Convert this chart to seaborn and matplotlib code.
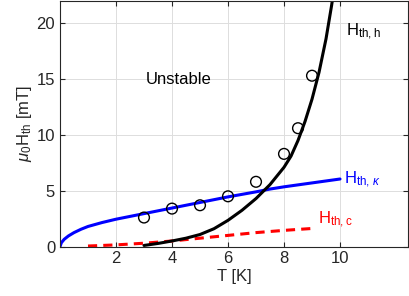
"""
Threshold fields H_th vs temperature: measured points and the three model curves.
"""

import matplotlib
matplotlib.use("Agg")
import matplotlib.pyplot as plt
import seaborn as sns

# measured thresholds (open circles)
T_MEAS = [3, 4, 5, 6, 7, 8, 8.5, 9]
H_MEAS = [2.6, 3.4, 3.7, 4.5, 5.8, 8.3, 10.6, 15.3]

# H_th,h (black)
T_H = [3.0, 3.5, 4.0, 4.5, 5.0, 5.5, 6.0, 6.5, 7.0, 7.5, 8.0, 8.25, 8.5,
       8.75, 9.0, 9.25, 9.5, 9.7, 9.8]
H_H = [0.1, 0.28, 0.5, 0.75, 1.08, 1.6, 2.35, 3.25, 4.3, 5.55, 7.1, 8.1, 9.5,
       11.2, 13.2, 15.6, 18.6, 21.6, 23.2]

# H_th,kappa (blue)
T_K = [0.0, 0.05, 0.15, 0.3, 0.5, 0.75, 1.0, 1.5, 2.0, 3.0, 4.0, 5.0, 6.0,
       7.0, 7.5, 8.0, 9.0, 10.0]
H_K = [0.0, 0.35, 0.65, 0.95, 1.25, 1.55, 1.8, 2.15, 2.45, 2.95, 3.45, 3.95,
       4.45, 4.9, 5.15, 5.35, 5.7, 6.05]

# H_th,c (red dashed)
T_C = [1, 2, 3, 4, 5, 6, 7, 8, 9]
H_C = [0.05, 0.15, 0.3, 0.5, 0.75, 1.0, 1.25, 1.45, 1.62]

sns.set_style("ticks")
plt.rcParams["font.family"] = ["Liberation Sans", "DejaVu Sans"]
plt.rcParams["mathtext.fontset"] = "custom"
plt.rcParams["mathtext.rm"] = "Liberation Sans"
plt.rcParams["mathtext.it"] = "Liberation Sans:italic"

fig = plt.figure(figsize=(4.09, 2.96), dpi=100)
ax = fig.add_axes([0.1467, 0.167, 0.851, 0.83])

sns.lineplot(x=T_K, y=H_K, ax=ax, color="#0000ff", linewidth=2.2, sort=False)
sns.lineplot(x=T_C, y=H_C, ax=ax, color="#ff0000", linewidth=2.2, sort=False,
             linestyle=(0, (3, 2)))
sns.lineplot(x=T_H, y=H_H, ax=ax, color="black", linewidth=2.2, sort=False)
sns.scatterplot(x=T_MEAS, y=H_MEAS, ax=ax, s=60, facecolor="none",
                edgecolor="black", linewidth=1, zorder=5)

ax.set_xlim(0, 12.43)
ax.set_ylim(0, 22)
ax.set_xticks([2, 4, 6, 8, 10])
ax.set_yticks([0, 5, 10, 15, 20])
ax.grid(True, color="#dddddd", linewidth=0.7)
ax.set_axisbelow(True)
for s in ax.spines.values():
    s.set_visible(True)
    s.set_color("#262626")
    s.set_linewidth(0.8)
ax.tick_params(direction="in", top=True, right=True, labelsize=12,
               colors="#262626", length=3.5, width=0.8)

ax.set_xlabel("T [K]", fontsize=12, color="#262626", labelpad=2)
ax.set_ylabel(r"$\mu_0$H$_{\rm th}$ [mT]", fontsize=12, color="#262626",
              labelpad=2)

ax.text(3.05, 15.0, "Unstable", fontsize=12, color="black", va="center")
ax.text(10.2, 19.2, r"H$_{\rm th,h}$", fontsize=12, color="black", va="center")
ax.text(10.15, 6.0, r"H$_{{\rm th,}\,\kappa}$", fontsize=12, color="#0000ff",
        va="center")
ax.text(9.2, 2.4, r"H$_{\rm th,c}$", fontsize=12, color="#ff0000", va="center")

fig.savefig("out.png", dpi=100)
